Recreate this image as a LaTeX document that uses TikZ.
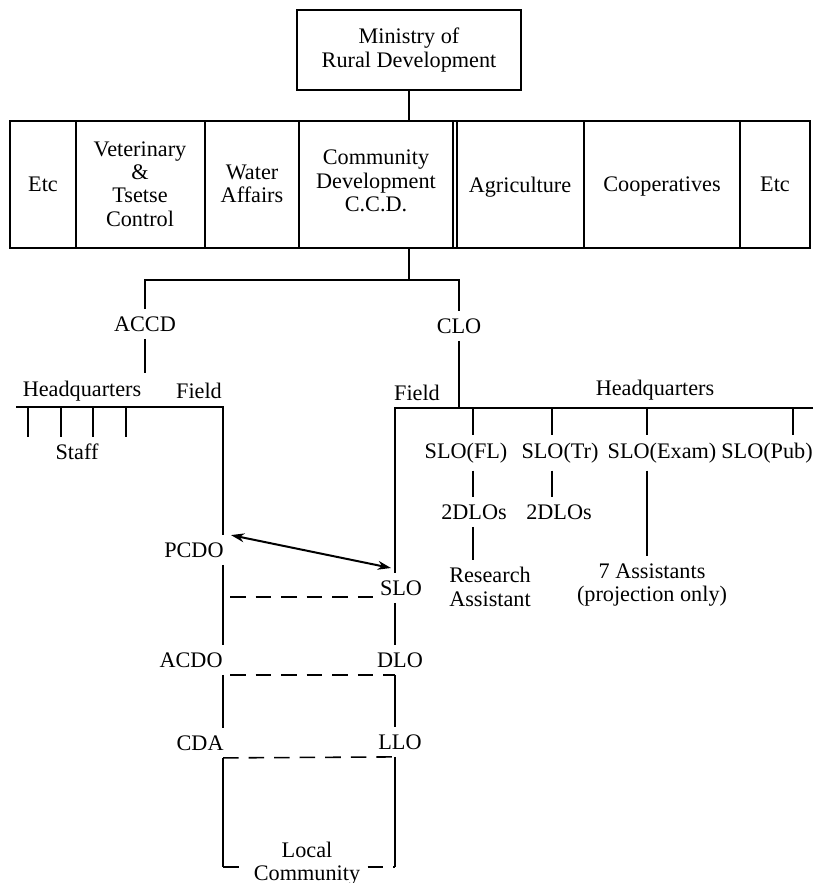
\documentclass[tikz,border=0pt]{standalone}
\usepackage{fontspec}
\setmainfont{Liberation Serif}
\usetikzlibrary{arrows.meta}
\begin{document}
\begin{tikzpicture}[x=0.45pt,y=-0.45pt,line width=0.7pt,
  every node/.style={font=\fontsize{10}{10.5}\selectfont,inner sep=3pt,align=center},
  dashline/.style={dash pattern=on 7pt off 4.5pt},
  twoway/.style={{Stealth[length=6pt,width=4pt]}-{Stealth[length=6pt,width=4pt]},line width=0.9pt}]
\useasboundingbox (0,0) rectangle (819,883);
% ministry and its departments
\node[draw,line width=0.9pt,minimum width=101pt,minimum height=36pt] (min) at (409,50) {Ministry of\\Rural Development};
\draw[line width=0.9pt] (10,121) rectangle (810,248);
\foreach \xd in {76,204.5,299,452.5,457,584,740}
  \draw[line width=0.9pt] (\xd,121) -- (\xd,248);
\node (etca) at (43,184) {Etc};
\node (vet) at (140,184) {Veterinary\\\&\\Tsetse\\Control};
\node (water) at (252,184) {Water\\Affairs};
\node (ccd) at (376,181) {Community\\Development\\C.C.D.};
\node (agri) at (520,187) {Agriculture};
\node (coop) at (662,187) {Cooperatives};
\node (etcb) at (775,184) {Etc};
\coordinate (rowtop) at (409,121);
\coordinate (rowbot) at (409,248);
\coordinate (split) at (409,280);
\draw (min) -- (rowtop);
\draw (rowbot) -- (split);
% two branches
\node (accd) at (145,324) {ACCD};
\node (clo) at (459,326) {CLO};
\draw (accd) -- (accd |- split) -- (clo |- split) -- (clo);
\node (hql) at (82,391) {Headquarters};
\node (fl) at (199,391) {Field};
\node (staff) at (77,452) {Staff};
\node (fr) at (417,393) {Field};
\node (hqr) at (655,390) {Headquarters};
\coordinate (lh) at (16,407);
\coordinate (lf) at (223,407);
\coordinate (rf) at (395,408);
\coordinate (rh) at (813,408);
\draw (accd) -- (accd |- hql.north);
\draw (clo) -- (clo |- rf);
\foreach \tx in {28,61,93,126}
  \draw (\tx,407) -- (\tx,437);
% field officers
\node[anchor=east] (pcdo) at (231,550) {PCDO};
\node[anchor=east] (acdo) at (230,660) {ACDO};
\node[anchor=east] (cda) at (231,743) {CDA};
\node (slo) at (401,588) {SLO};
\node (dlo) at (400,660) {DLO};
\node (llo) at (400,742) {LLO};
\node (comm) at (307,864) {Local\\Community};
\draw (lh) -- (lf) -- (lf |- pcdo.north);
\draw (rh) -- (rf) -- (rf |- slo.north);
\foreach \a/\b in {pcdo/acdo,acdo/cda}
  \draw (lf |- \a.south) -- (lf |- \b.north);
\foreach \a/\b in {slo/dlo,dlo/llo}
  \draw (rf |- \a.south) -- (rf |- \b.north);
\coordinate (lb) at (223,867);
\coordinate (rb) at (395,867);
\draw (lf |- cda.south) -- (lb);
\draw (rf |- llo.south) -- (rb);
\coordinate (slotip) at (391,568);
\draw[twoway] (pcdo.north east) -- (slotip);
\coordinate (d1) at (230,597);
\coordinate (d2) at (230,675);
\draw[dashline] (d1) -- (d1 -| slo.west);
\draw[dashline] (d2) -- (d2 -| rf);
\draw[dashline] (lf |- cda.south) -- (rf |- llo.south);
\draw[dashline] (lb) -- (lb -| comm.west);
\draw[dashline] (comm.east |- rb) -- (rb);
% headquarters officers
\node (slofl) at (466,453) {SLO(FL)};
\node (slotr) at (560,453) {SLO(Tr)};
\node (sloex) at (662,453) {SLO(Exam)};
\node (slopub) at (767,453) {SLO(Pub)};
\node (dlofl) at (474,512) {2DLOs};
\node (dlotr) at (559,512) {2DLOs};
\node (resa) at (490,587) {Research\\Assistant};
\node (asst) at (652,585) {7 Assistants\\(projection only)};
\foreach \tx/\nm in {473/slofl,552/slotr,647/sloex,793/slopub}
  \draw (\tx,408) -- (\tx,0 |- \nm.north);
\foreach \tx/\a/\b in {473/slofl/dlofl,473/dlofl/resa,552/slotr/dlotr,647/sloex/asst}
  \draw (\tx,0 |- \a.south) -- (\tx,0 |- \b.north);
\end{tikzpicture}
\end{document}
